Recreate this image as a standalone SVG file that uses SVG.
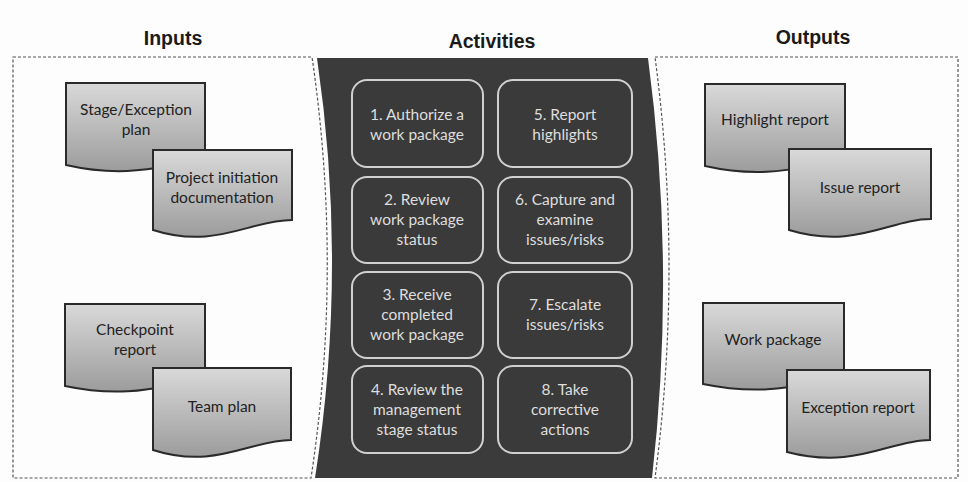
<svg xmlns="http://www.w3.org/2000/svg" width="968" height="482" viewBox="0 0 968 482">
<defs>
<linearGradient id="docg" x1="0" y1="0" x2="0" y2="1">
<stop offset="0" stop-color="#d9d9d9"/>
<stop offset="1" stop-color="#9c9c9c"/>
</linearGradient>
<style>
.title{font-family:"Liberation Sans",Arial,sans-serif;font-weight:bold;font-size:19.5px;fill:#1a1a1a;text-anchor:middle}
.panel{fill:none;stroke:#555;stroke-width:1.2;stroke-dasharray:3 2}
.doc{fill:url(#docg);stroke:#2a2a2a;stroke-width:2}
.dt{font-family:Lato,"Open Sans",sans-serif;font-size:15.5px;fill:#222;text-anchor:middle}
.box{fill:#3a3a3a;stroke:#d0d0d0;stroke-width:2}
.bt{font-family:Lato,"Open Sans",sans-serif;font-size:15.5px;fill:#dedede;text-anchor:middle}
</style>
</defs>
<rect width="968" height="482" fill="#fdfdfd"/>
<g id="titles">
<text class="title" x="173" y="45">Inputs</text>
<text class="title" x="492" y="48">Activities</text>
<text class="title" x="813" y="44">Outputs</text>
</g>
<g id="panels">
<path class="panel" d="M13,57 H312 Q343,268 311,478 H13 Z"/>
<path class="panel" d="M655,57 H958 V478 H655 Q683,268 655,57 Z"/>
<path id="activities-panel" d="M317,58 L648,58 Q676,268 652,478 L315,478 Q348,268 317,58 Z" fill="#3b3b3b"/>
</g>
<g id="connectors"></g>
<g id="doc-stage">
<path class="doc" d="M66,83 H205 V163 C180,158 140,182 66,165 Z"/>
<text class="dt" x="136" y="115">Stage/Exception</text>
<text class="dt" x="136" y="135">plan</text>
</g>
<g id="doc-pid">
<path class="doc" d="M153,150 H292 V220 C250,220 215,250 153,230 Z"/>
<text class="dt" x="222" y="183">Project initiation</text>
<text class="dt" x="222" y="203">documentation</text>
</g>
<g id="doc-checkpoint">
<path class="doc" d="M65,304 H205 V382 C180,378 140,402 65,386 Z"/>
<text class="dt" x="135" y="335">Checkpoint</text>
<text class="dt" x="135" y="355">report</text>
</g>
<g id="doc-team">
<path class="doc" d="M153,368 H291 V440 C250,440 215,470 153,450 Z"/>
<text class="dt" x="222" y="412">Team plan</text>
</g>
<g id="doc-highlight">
<path class="doc" d="M705,84 H845 V163 C820,158 780,183 705,166 Z"/>
<text class="dt" x="775" y="125">Highlight report</text>
</g>
<g id="doc-issue">
<path class="doc" d="M789,149 H931 V219 C890,219 855,250 789,230 Z"/>
<text class="dt" x="860" y="193">Issue report</text>
</g>
<g id="doc-workpackage">
<path class="doc" d="M703,303 H844 V380 C820,376 780,400 703,384 Z"/>
<text class="dt" x="773" y="345">Work package</text>
</g>
<g id="doc-exception">
<path class="doc" d="M787,370 H930 V440 C890,440 855,470 787,452 Z"/>
<text class="dt" x="858" y="413">Exception report</text>
</g>
<g id="act1">
<rect class="box" x="352" y="80" width="131" height="87" rx="15"/>
<text class="bt" x="417" y="120">1. Authorize a</text>
<text class="bt" x="417" y="140">work package</text>
</g>
<g id="act2">
<rect class="box" x="352" y="177" width="131" height="86" rx="15"/>
<text class="bt" x="417" y="205">2. Review</text>
<text class="bt" x="417" y="225">work package</text>
<text class="bt" x="417" y="245">status</text>
</g>
<g id="act3">
<rect class="box" x="352" y="272" width="131" height="86" rx="15"/>
<text class="bt" x="417" y="300">3. Receive</text>
<text class="bt" x="417" y="320">completed</text>
<text class="bt" x="417" y="340">work package</text>
</g>
<g id="act4">
<rect class="box" x="352" y="366" width="131" height="87" rx="15"/>
<text class="bt" x="417" y="395">4. Review the</text>
<text class="bt" x="417" y="415">management</text>
<text class="bt" x="417" y="435">stage status</text>
</g>
<g id="act5">
<rect class="box" x="498" y="80" width="134" height="87" rx="15"/>
<text class="bt" x="565" y="120">5. Report</text>
<text class="bt" x="565" y="140">highlights</text>
</g>
<g id="act6">
<rect class="box" x="498" y="177" width="134" height="86" rx="15"/>
<text class="bt" x="565" y="205">6. Capture and</text>
<text class="bt" x="565" y="225">examine</text>
<text class="bt" x="565" y="245">issues/risks</text>
</g>
<g id="act7">
<rect class="box" x="498" y="272" width="134" height="86" rx="15"/>
<text class="bt" x="565" y="310">7. Escalate</text>
<text class="bt" x="565" y="330">issues/risks</text>
</g>
<g id="act8">
<rect class="box" x="498" y="366" width="134" height="87" rx="15"/>
<text class="bt" x="565" y="395">8. Take</text>
<text class="bt" x="565" y="415">corrective</text>
<text class="bt" x="565" y="435">actions</text>
</g>
</svg>
